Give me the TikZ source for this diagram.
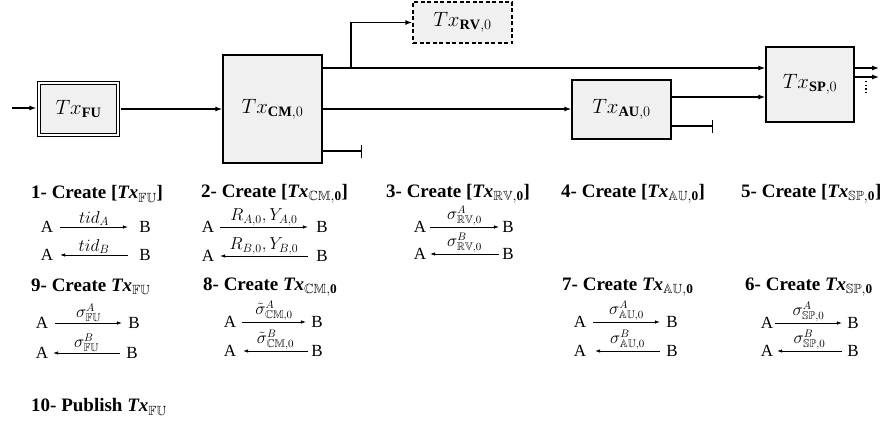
\documentclass[tikz,border=0pt]{standalone}
\usepackage{amsmath,amssymb}
\usepackage{fontspec}
\setmainfont{Liberation Serif}
\usetikzlibrary{arrows.meta,positioning}

\tikzset{
  box/.style={draw, line width=1.3pt, fill=gray!12, inner sep=0pt,
              font=\fontsize{20.5}{24}\selectfont},
  wire/.style={line width=1.2pt},
  flow/.style={wire, -{Latex[length=7pt,width=5pt]}},
  stopline/.style={wire, -{Bar[width=13pt,line width=1.4pt]}},
  title/.style={anchor=west, inner sep=0pt, font=\fontsize{19}{22}\selectfont\bfseries},
  party/.style={inner sep=0pt, font=\fontsize{17}{20}\selectfont},
  msg/.style={line width=0.6pt},
  lbl/.style={above, inner sep=1pt, font=\fontsize{16}{18}\selectfont},
  lbla/.style={above, inner sep=1pt, font=\fontsize{17}{19}\selectfont},
  >={Latex[length=5pt,width=3.5pt]}
}

% #1 name, #2 y, #3 xA, #4 gap after A, #5 gap before B, #6 xB, #7 arrow dir, #8 label, #9 label style
\newcommand{\xmsg}[9]{%
  \node[party] (#1a) at (#3,#2) {A};
  \node[party] (#1b) at (#6,#2) {B};
  \draw[msg,#7] ([xshift=#4pt]#1a.east) -- node[#9]{#8} ([xshift=-#5pt]#1b.west);
}

\begin{document}
\begin{tikzpicture}[x=1pt,y=-1pt]
\path[use as bounding box] (0,0) rectangle (889,423);

% ---- transaction boxes ----
\node[box, double, double distance=2pt, line width=1.2pt,
      minimum width=78.6pt, minimum height=51.6pt] (FU) at (78.5,109) {$Tx_{\mathbf{FU}}$};
\node[box, minimum width=99pt, minimum height=108pt] (CM) at (272.5,109) {$Tx_{\mathbf{CM},0}$};
\node[box, dash pattern=on 4pt off 2.5pt, minimum width=99pt, minimum height=41pt] (RV) at (462.5,22.5) {$Tx_{\mathbf{RV},0}$};
\node[box, minimum width=99pt, minimum height=59pt] (AU) at (621.5,109.5) {$Tx_{\mathbf{AU},0}$};
\node[box, minimum width=88pt, minimum height=75pt] (SP) at (810,84.5) {\raisebox{4pt}{$Tx_{\mathbf{SP},0}$}};

% ---- connectors ----
\coordinate (in) at (12,108);
\coordinate (br) at (351,68);
\coordinate (au1) at (700,97);
\coordinate (aus) at (713,126);
\coordinate (cms) at (362,151);
\coordinate (o1) at (879,68);
\coordinate (o2) at (879,77);
\coordinate (d1) at (866,81);
\coordinate (d2) at (866,93);

\draw[flow, shorten >=2.2pt] (in) -- (in -| FU.west);
\draw[flow, shorten <=2.2pt] (FU.east) -- (CM.west);
\draw[wire] (CM.east |- br) -- (br);
\draw[flow] (br) -- (SP.west |- br);
\draw[flow] (br) |- (RV.west);
\draw[flow] (CM.east) -- (AU.west |- CM.east);
\draw[flow] (AU.east |- au1) -- (SP.west |- au1);
\draw[stopline] (AU.east |- aus) -- (aus);
\draw[stopline] (CM.east |- cms) -- (cms);
\draw[flow] (SP.east |- o1) -- (o1);
\draw[flow] (SP.east |- o2) -- (o2);
\draw[line width=1.4pt, dash pattern=on 1.4pt off 2.2pt] (d1) -- (d2);

% ---- step titles ----
\node[title] (t1) at (31,194) {1- Create [\textit{Tx}$_{\mathbb{FU}}$]};
\node[title] (t2) at (201,194) {2- Create [\textit{Tx}$_{\mathbb{CM},\mathbf{0}}$]};
\node[title] (t3) at (386,194) {3- Create [\textit{Tx}$_{\mathbb{RV},\mathbf{0}}$]};
\node[title] (t4) at (561,194) {4- Create [\textit{Tx}$_{\mathbb{AU},\mathbf{0}}$]};
\node[title] (t5) at (741,194) {5- Create [\textit{Tx}$_{\mathbb{SP},\mathbf{0}}$]};

\node[title] (t9) at (31,287) {9- Create \textit{Tx}$_{\mathbb{FU}}$};
\node[title] (t8) at (203,287) {8- Create \textit{Tx}$_{\mathbb{CM},\mathbf{0}}$};
\node[title] (t7) at (562,287) {7- Create \textit{Tx}$_{\mathbb{AU},\mathbf{0}}$};
\node[title] (t6) at (745,287) {6- Create \textit{Tx}$_{\mathbb{SP},\mathbf{0}}$};

\node[title] (t10) at (31,407) {10- Publish \textit{Tx}$_{\mathbb{FU}}$};

% ---- message exchanges, row 1 ----
\xmsg{m1}{227}{47}{6.9}{11.3}{145}{->}{$tid_A$}{lbla}
\xmsg{m1r}{255}{47}{6.9}{11.3}{145}{<-}{$tid_B$}{lbla}
\xmsg{m2}{227}{208}{5.9}{8.3}{322}{->}{$R_{A,0},Y_{A,0}$}{lbla}
\xmsg{m2r}{256}{208}{5.9}{8.3}{322}{<-}{$R_{B,0},Y_{B,0}$}{lbla}
\xmsg{m3}{227}{420}{3.9}{3.3}{508}{->}{$\sigma^{A}_{\mathbb{RV},0}$}{lbl}
\xmsg{m3r}{254}{420}{3.9}{3.3}{508}{<-}{$\sigma^{B}_{\mathbb{RV},0}$}{lbl}

% ---- message exchanges, row 2 ----
\xmsg{n1}{323}{42}{6.9}{6.3}{134}{->}{$\sigma^{A}_{\mathbb{FU}}$}{lbl}
\xmsg{n1r}{353}{42}{4.9}{6.3}{132}{<-}{$\sigma^{B}_{\mathbb{FU}}$}{lbl}
\xmsg{n2}{322}{230}{5.9}{5.3}{317}{->}{$\tilde{\sigma}^{A}_{\mathbb{CM},0}$}{lbl}
\xmsg{n2r}{351}{230}{6.9}{3.3}{317}{<-}{$\tilde{\sigma}^{B}_{\mathbb{CM},0}$}{lbl}
\xmsg{n4}{322}{580}{6.9}{6.3}{672}{->}{$\sigma^{A}_{\mathbb{AU},0}$}{lbl}
\xmsg{n4r}{351}{580}{8.9}{6.3}{672}{<-}{$\sigma^{B}_{\mathbb{AU},0}$}{lbl}
\xmsg{n5}{323}{767}{1.9}{5.3}{853}{->}{$\sigma^{A}_{\mathbb{SP},0}$}{lbl}
\xmsg{n5r}{351}{767}{3.9}{5.3}{853}{<-}{$\sigma^{B}_{\mathbb{SP},0}$}{lbl}

\end{tikzpicture}
\end{document}
